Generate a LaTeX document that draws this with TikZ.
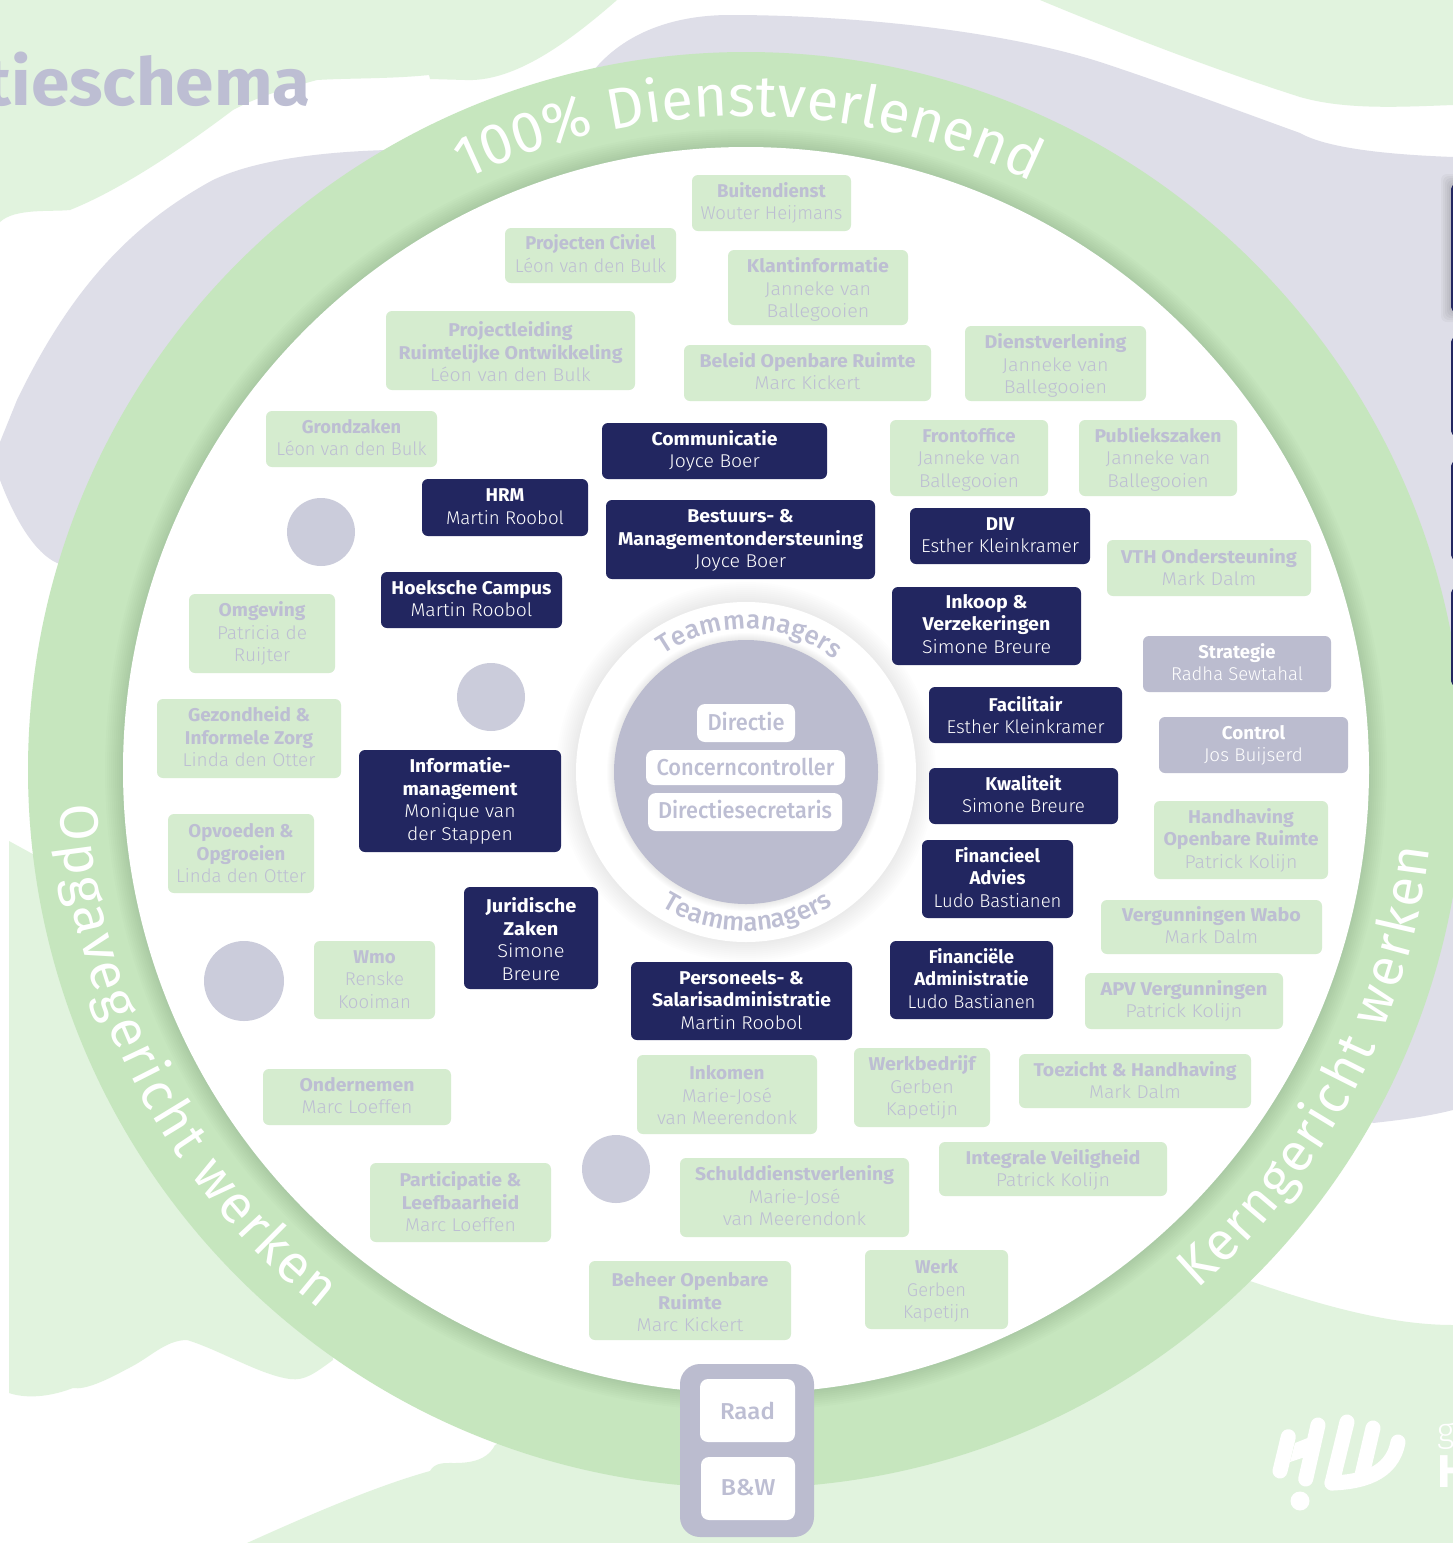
\documentclass[tikz,border=0pt]{standalone}
\usepackage{fontspec}
\usepackage{graphicx}
\usetikzlibrary{decorations.text}
\setmainfont{Fira Sans}
\newfontfamily\lt{Fira Sans Light}
\newfontfamily\md{Fira Sans Medium}
\definecolor{bggreen}{HTML}{E1F3DE}
\definecolor{lav}{HTML}{DEDEE8}
\definecolor{ringgreen}{HTML}{C6E6BE}
\definecolor{boxgreen}{HTML}{D5ECCF}
\definecolor{txtlav}{HTML}{BDBED3}
\definecolor{navy}{HTML}{222660}
\definecolor{midgray}{HTML}{BBBCCF}
\definecolor{dotgray}{HTML}{CBCCDB}
\newcommand\tb[1]{{\bfseries #1}}
\newcommand\nm[1]{{\lt #1}}
\newcommand\bxx[9]{%
 \pgfmathsetmacro\cxx{(#3+#5)/2}\pgfmathsetmacro\cyy{(#4+#6)/2}%
 \pgfmathsetmacro\bww{#5-#3}\pgfmathsetmacro\bhh{#6-#4}\pgfmathsetmacro\rsd{2*(#9)}%
 \node[#2,minimum width=\bww pt,minimum height=\bhh pt] (#1) at (\cxx,\cyy) {\raisebox{0pt}[\dimexpr\height+\rsd pt\relax][\depth]{\resizebox{#7pt}{\height}{\begin{tabular}{@{}c@{}}#8\end{tabular}}}};
}
\tikzset{
 basebox/.style={rounded corners=6pt,inner sep=0pt,font=\fontsize{18.5}{22.5}\selectfont},
 greenbox/.style={basebox,fill=boxgreen,text=txtlav},
 navybox/.style={basebox,fill=navy,text=white},
 graybox/.style={basebox,fill=midgray,text=white},
 whitebox/.style={rounded corners=8pt,inner sep=0pt,fill=white,text=txtlav,font=\fontsize{23}{26}\selectfont\md},
 dot/.style={circle,fill=dotgray,inner sep=0pt,draw=none},
 ringtext/.style={decorate,decoration={text along path,text align={fit to path},text color=white}},
}
\begin{document}
\begin{tikzpicture}[x=1pt,y=-1pt]
\useasboundingbox (0,0) rectangle (1453,1543);
\clip (0,0) rectangle (1453,1543);
\fill[white] (0,0) rectangle (1453,1543);
% background shapes
\fill[bggreen] (0,0) -- (617,0) .. controls (560,50) and (510,82) .. (465,80) -- (430,79) -- (429,75)
 .. controls (390,79) and (350,78) .. (317,80) .. controls (280,90) and (255,98) .. (233,110)
 .. controls (180,150) and (120,190) .. (70,210) .. controls (50,212) and (15,208) .. (0,222) -- cycle;
\fill[bggreen] (1040,0) .. controls (1100,25) and (1200,65) .. (1300,97) .. controls (1345,110) and (1400,107) .. (1453,105) -- (1453,0) -- cycle;
\fill[lav] (387,150) .. controls (320,152) and (255,160) .. (213,180) .. controls (130,225) and (70,290) .. (17,400)
 -- (0,442) -- (0,480) .. controls (15,520) and (35,553) .. (57,563) -- (400,600) -- cycle;
\fill[lav] (590,75) .. controls (620,35) and (670,15) .. (730,15) .. controls (850,15) and (1000,30) .. (1100,62)
 .. controls (1170,85) and (1250,115) .. (1300,133) .. controls (1330,150) and (1400,155) .. (1453,157)
 -- (1453,1110) .. controls (1425,1117) and (1400,1120) .. (1373,1123) -- (1000,800) -- cycle;
\fill[bggreen] (9,841) -- (40,858) -- (333,1300) -- (333,1360) .. controls (315,1373) and (305,1381) .. (290,1379)
 .. controls (260,1375) and (220,1350) .. (187,1340) .. controls (165,1340) and (150,1358) .. (127,1369)
 .. controls (105,1381) and (85,1390) .. (73,1388) .. controls (55,1395) and (30,1400) .. (9,1393) -- cycle;
\fill[bggreen] (247,1543) .. controls (320,1510) and (380,1485) .. (430,1471) .. controls (435,1462) and (445,1463) .. (455,1463)
 .. controls (480,1463) and (490,1455) .. (495,1445) -- (1000,1200) -- (1253,1282) .. controls (1320,1305) and (1390,1325) .. (1453,1325)
 -- (1453,1543) -- cycle;
% ring with soft inner edge
\coordinate (c) at (746,770);
\fill[ringgreen] (c) circle[radius=718pt];
\foreach \k in {2,4,...,18} {\draw[black,opacity=.012,line width=2*\k pt] (c) circle[radius=623pt];}
\fill[white] (c) circle[radius=623pt];
% ring captions
\path[ringtext,decoration={text={|\fontsize{58}{62}\selectfont|100{\%} Dienstverlenend}}]
 (c) ++(115.4:654pt) arc[start angle=115.4,end angle=64.2,radius=654pt];
\path[ringtext,decoration={text={|\fontsize{54}{60}\selectfont|Opgavegericht werken}}]
 (c) ++(183:687pt) arc[start angle=183,end angle=231.7,radius=687pt];
\path[ringtext,decoration={text={|\fontsize{54}{60}\selectfont|Kerngericht werken}}]
 (c) ++(311:688pt) arc[start angle=311,end angle=353.5,radius=688pt];
% side tabs
\foreach \k in {2,4,...,10} {\fill[black,opacity=.03,rounded corners=6pt] (1451-\k,184-\k) rectangle (1480,312+\k);}
\foreach \ya/\yb in {184/312,337/436,461/560,588/686} {\fill[navy,rounded corners=5pt] (1451,\ya) rectangle (1480,\yb);}
% title
\node[anchor=base east,inner sep=0pt,text=txtlav,font=\fontsize{66}{80}\selectfont\bfseries] (title) at (311,105) {\resizebox{326pt}{\height}{tieschema}};
% centre
\coordinate (m) at (746,772);
\foreach \k in {2,4,...,20} {\draw[black,opacity=.007,line width=2*\k pt] (m) circle[radius=170pt];}
\fill[white] (m) circle[radius=170pt];
\foreach \k in {1,2,...,7} {\draw[black,opacity=.012,line width=2*\k pt] (m) circle[radius=132pt];}
\fill[midgray] (m) circle[radius=132pt];
\path[decorate,decoration={text along path,text align={fit to path},text color=txtlav,text={|\fontsize{26}{30}\selectfont\md|Teammanagers}}]
 (m) ++(125:143pt) arc[start angle=125,end angle=52,radius=143pt];
\path[decorate,decoration={text along path,text align={fit to path},text color=txtlav,text={|\fontsize{26}{30}\selectfont\md|Teammanagers}}]
 (m) ++(238:159pt) arc[start angle=238,end angle=302,radius=159pt];
\bxx{dir}{whitebox}{697}{704}{795}{742}{77}{Directie}{2}
\bxx{con}{whitebox}{646}{750}{845}{785}{178}{Concerncontroller}{3}
\bxx{sec}{whitebox}{648}{793}{842}{831}{174}{Directiesecretaris}{1}
% dots
\node[dot,minimum size=68pt] (d1) at (321,532) {};
\node[dot,minimum size=68pt] (d2) at (491,697) {};
\node[dot,minimum size=80pt] (d3) at (244,981) {};
\node[dot,minimum size=68pt] (d4) at (616,1169) {};
% green boxes
\bxx{g1}{greenbox}{692}{175}{851}{231}{142}{\tb{Buitendienst}\\\nm{Wouter Heijmans}}{1}
\bxx{g2}{greenbox}{505}{228}{676}{283}{151}{\tb{Projecten Civiel}\\\nm{Léon van den Bulk}}{1}
\bxx{g3}{greenbox}{728}{250}{908}{325}{142}{\tb{Klantinformatie}\\\nm{Janneke van}\\\nm{Ballegooien}}{3}
\bxx{g4}{greenbox}{386}{311}{635}{390}{224}{\tb{Projectleiding}\\\tb{Ruimtelijke Ontwikkeling}\\\nm{Léon van den Bulk}}{4}
\bxx{g5}{greenbox}{684}{345}{931}{401}{216}{\tb{Beleid Openbare Ruimte}\\\nm{Marc Kickert}}{1}
\bxx{g6}{greenbox}{965}{326}{1146}{401}{142}{\tb{Dienstverlening}\\\nm{Janneke van}\\\nm{Ballegooien}}{3}
\bxx{g7}{greenbox}{266}{411}{437}{467}{150}{\tb{Grondzaken}\\\nm{Léon van den Bulk}}{1}
\bxx{g8}{greenbox}{890}{420}{1048}{496}{103}{\tb{Frontoffice}\\\nm{Janneke van}\\\nm{Ballegooien}}{2}
\bxx{g9}{greenbox}{1079}{420}{1237}{496}{127}{\tb{Publiekszaken}\\\nm{Janneke van}\\\nm{Ballegooien}}{2}
\bxx{g10}{greenbox}{1107}{540}{1311}{596}{176}{\tb{VTH Ondersteuning}\\\nm{Mark Dalm}}{2}
\bxx{g11}{greenbox}{189}{594}{335}{673}{90}{\tb{Omgeving}\\\nm{Patricia de}\\\nm{Ruijter}}{1}
\bxx{g12}{greenbox}{157}{699}{341}{778}{133}{\tb{Gezondheid \&}\\\tb{Informele Zorg}\\\nm{Linda den Otter}}{1}
\bxx{g13}{greenbox}{168}{814}{314}{893}{130}{\tb{Opvoeden \&}\\\tb{Opgroeien}\\\nm{Linda den Otter}}{2}
\bxx{g14}{greenbox}{314}{941}{435}{1019}{73}{\tb{Wmo}\\\nm{Renske}\\\nm{Kooiman}}{1}
\bxx{g15}{greenbox}{263}{1069}{451}{1125}{115}{\tb{Ondernemen}\\\nm{Marc Loeffen}}{1}
\bxx{g16}{greenbox}{370}{1163}{551}{1242}{122}{\tb{Participatie \&}\\\tb{Leefbaarheid}\\\nm{Marc Loeffen}}{2}
\bxx{g17}{greenbox}{637}{1055}{817}{1134}{140}{\tb{Inkomen}\\\nm{Marie-José}\\\nm{van Meerendonk}}{3}
\bxx{g18}{greenbox}{854}{1048}{990}{1127}{107}{\tb{Werkbedrijf}\\\nm{Gerben}\\\nm{Kapetijn}}{1}
\bxx{g19}{greenbox}{1019}{1054}{1251}{1108}{203}{\tb{Toezicht \& Handhaving}\\\nm{Mark Dalm}}{2}
\bxx{g20}{greenbox}{939}{1142}{1167}{1196}{175}{\tb{Integrale Veiligheid}\\\nm{Patrick Kolijn}}{2}
\bxx{g21}{greenbox}{680}{1158}{909}{1237}{199}{\tb{Schulddienstverlening}\\\nm{Marie-José}\\\nm{van Meerendonk}}{1}
\bxx{g22}{greenbox}{589}{1261}{791}{1340}{157}{\tb{Beheer Openbare}\\\tb{Ruimte}\\\nm{Marc Kickert}}{4}
\bxx{g23}{greenbox}{865}{1250}{1008}{1329}{67}{\tb{Werk}\\\nm{Gerben}\\\nm{Kapetijn}}{2}
\bxx{g24}{greenbox}{1154}{801}{1328}{879}{155}{\tb{Handhaving}\\\tb{Openbare Ruimte}\\\nm{Patrick Kolijn}}{1}
\bxx{g25}{greenbox}{1101}{900}{1322}{954}{179}{\tb{Vergunningen Wabo}\\\nm{Mark Dalm}}{1}
\bxx{g26}{greenbox}{1085}{973}{1283}{1029}{167}{\tb{APV Vergunningen}\\\nm{Patrick Kolijn}}{1}
% grey boxes
\bxx{s1}{graybox}{1143}{636}{1331}{692}{132}{\tb{Strategie}\\\nm{Radha Sewtahal}}{1}
\bxx{s2}{graybox}{1159}{717}{1348}{773}{99}{\tb{Control}\\\nm{Jos Buijserd}}{1}
% navy boxes
\bxx{n1}{navybox}{602}{423}{827}{479}{126}{\tb{Communicatie}\\\nm{Joyce Boer}}{1}
\bxx{n2}{navybox}{422}{479}{588}{536}{118}{\tb{HRM}\\\nm{Martin Roobol}}{1}
\bxx{n3}{navybox}{606}{500}{875}{579}{245}{\tb{Bestuurs- \&}\\\tb{Managementondersteuning}\\\nm{Joyce Boer}}{1}
\bxx{n4}{navybox}{910}{508}{1090}{564}{158}{\tb{DIV}\\\nm{Esther Kleinkramer}}{1}
\bxx{n5}{navybox}{381}{572}{562}{628}{160}{\tb{Hoeksche Campus}\\\nm{Martin Roobol}}{1}
\bxx{n6}{navybox}{892}{587}{1081}{665}{129}{\tb{Inkoop \&}\\\tb{Verzekeringen}\\\nm{Simone Breure}}{0}
\bxx{n7}{navybox}{929}{687}{1122}{743}{158}{\tb{Facilitair}\\\nm{Esther Kleinkramer}}{3}
\bxx{n8}{navybox}{929}{768}{1118}{824}{123}{\tb{Kwaliteit}\\\nm{Simone Breure}}{1}
\bxx{n9}{navybox}{922}{840}{1073}{918}{128}{\tb{Financieel}\\\tb{Advies}\\\nm{Ludo Bastianen}}{1}
\bxx{n10}{navybox}{359}{750}{561}{852}{115}{\tb{Informatie-}\\\tb{management}\\\nm{Monique van}\\\nm{der Stappen}}{1}
\bxx{n11}{navybox}{464}{887}{598}{989}{91}{\tb{Juridische}\\\tb{Zaken}\\\nm{Simone}\\\nm{Breure}}{4}
\bxx{n12}{navybox}{631}{962}{852}{1040}{179}{\tb{Personeels- \&}\\\tb{Salarisadministratie}\\\nm{Martin Roobol}}{1}
\bxx{n13}{navybox}{890}{941}{1053}{1019}{128}{\tb{Financiële}\\\tb{Administratie}\\\nm{Ludo Bastianen}}{1}
% council block
\fill[midgray,rounded corners=20pt] (680,1364) rectangle (814,1537);
\bxx{raad}{whitebox}{700}{1379}{795}{1442}{55}{Raad}{4}
\bxx{bw}{whitebox}{701}{1457}{795}{1520}{55}{B\&W}{2}
% logo
\begin{scope}[white,line cap=round,line join=round]
\draw[line width=15pt] (1288.3,1436.7) -- (1280,1471);
\draw[line width=15pt] (1318,1425) -- (1305.7,1479);
\fill (1295,1443) -- (1310,1437) -- (1305,1457) -- (1290,1462) -- cycle;
\draw[line width=15pt] (1347,1422) -- (1332,1483);
\draw[line width=15pt] (1373,1428) -- (1362,1475);
\draw[line width=15pt] (1332,1483) .. controls (1360,1482) and (1392,1475) .. (1398,1442);
\fill (1300,1501) circle[radius=9.5pt];
\end{scope}
\node[anchor=base west,inner sep=0pt,text=white,font=\fontsize{34}{36}\selectfont\lt] (g) at (1437,1442) {g};
\node[anchor=base west,inner sep=0pt,text=white,font=\fontsize{46}{48}\selectfont\bfseries] (h) at (1437,1487) {H};
\end{tikzpicture}
\end{document}
